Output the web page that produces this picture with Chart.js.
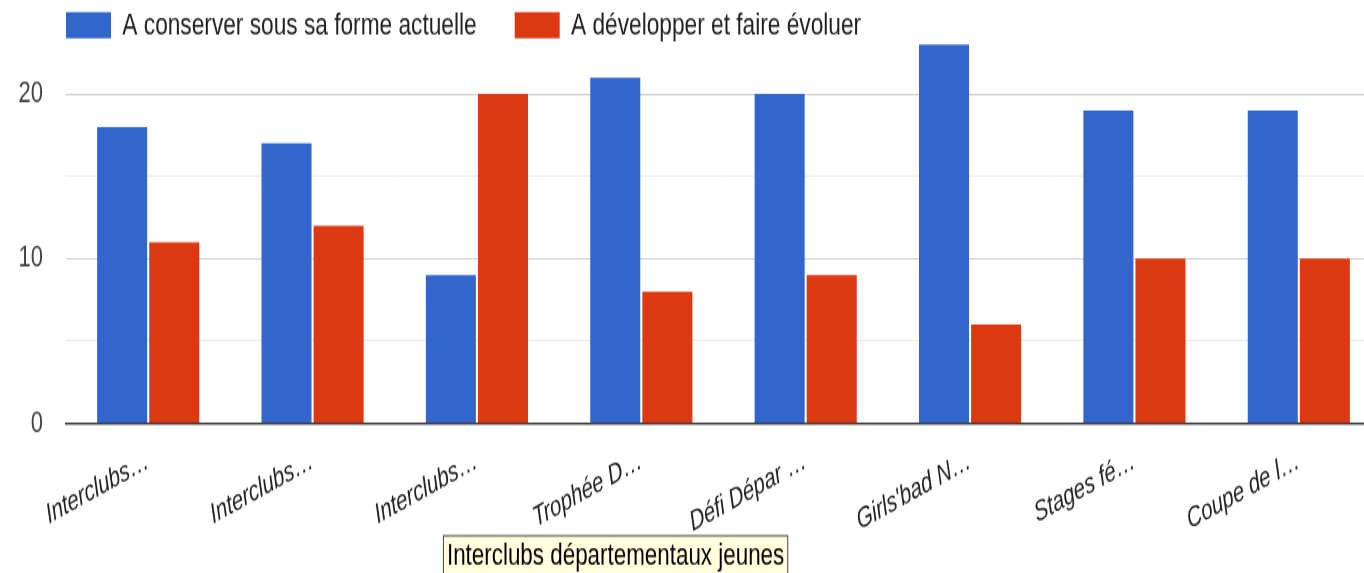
<!DOCTYPE html>
<html>
<head>
<meta charset="utf-8">
<script src="https://cdn.jsdelivr.net/npm/chart.js@4.4.1/dist/chart.umd.min.js"></script>
<style>
  html { overflow: hidden; }
  body { margin: 0; padding: 0; background: #fff; }
</style>
</head>
<body>
<!-- la capture d'origine est étirée verticalement : 415 px de dessin affichés sur 573 -->
<canvas id="graficabarras" width="1381" height="415" style="display:block;width:1381px;height:573px"></canvas>
<script>
const categories = ['Interclubs…', 'Interclubs…', 'Interclubs…', 'Trophée D…', 'Défi Dépar …', "Girls'bad N…", 'Stages fé…', 'Coupe de l…'];
const seriesNames = ['A conserver sous sa forme actuelle', 'A développer et faire évoluer'];
const conserver = [18, 17, 9, 21, 20, 23, 19, 19];
const developper = [11, 12, 20, 8, 9, 6, 10, 10];
const yLabels = [0, 10, 20];
const hoverIndex = 2;
const hoverText = 'Interclubs départementaux jeunes';

const colors = ['#3366cc', '#dc3912'];
Chart.defaults.font.family = '"Liberation Sans", Arial, sans-serif';

// la légende ne prend pas de place : elle chevauche le haut de la zone de tracé
const legendShift = {
    id: 'legendShift',
    beforeLayout(chart) {
        const lg = chart.legend;
        if (lg && !lg._sansHauteur) {
            const fit = lg.fit.bind(lg);
            lg.fit = function () { fit(); this._vraieHauteur = this.height; this.height = 0; };
            lg._sansHauteur = true;
        }
    },
    beforeDraw(chart) {
        const lg = chart.legend;
        const pad = lg.options.labels.padding;
        lg.left = chart.chartArea.left - pad;
        lg.top = chart.chartArea.top - pad - 1.5;
        lg.height = lg._vraieHauteur;
        lg.right = lg.left + lg.width;
        lg.bottom = lg.top + lg.height;
    }
};

// infobulle affichée sous l'axe (survol de la 3e catégorie)
const hoverBox = {
    id: 'hoverBox',
    afterDraw(chart) {
        const c = chart.ctx;
        const x = chart.scales.x.getPixelForValue(hoverIndex) - 34;
        const y = chart.chartArea.bottom + 81;
        c.save();
        c.font = '22.4px "Liberation Sans", Arial, sans-serif';
        const w = c.measureText(hoverText).width + 7;
        c.fillStyle = '#ffffdd';
        c.fillRect(x, y, w, 40);
        c.strokeStyle = '#444';
        c.lineWidth = 1;
        c.strokeRect(x + 0.5, y + 0.5, w, 40);
        c.fillStyle = '#000';
        c.textBaseline = 'middle';
        c.fillText(hoverText, x + 4, y + 15);
        c.restore();
    }
};

const ctx = document.getElementById('graficabarras').getContext('2d');

window.myChart = new Chart(ctx, {
    type: 'bar',
    data: {
        labels: categories,
        datasets: [conserver, developper].map((d, i) => ({
            label: seriesNames[i],
            data: d,
            backgroundColor: colors[i],
            borderWidth: 0,
            categoryPercentage: 0.634,
            barPercentage: 0.96
        }))
    },
    options: {
        responsive: false,
        animation: false,
        layout: { padding: { top: 8.5, left: 0, right: 0, bottom: 0 } },
        plugins: {
            legend: {
                position: 'top',
                align: 'start',
                labels: {
                    boxWidth: 45,
                    boxHeight: 19,
                    padding: 38,
                    color: '#222',
                    font: { size: 22.7 }
                }
            },
            tooltip: { enabled: false }
        },
        scales: {
            x: {
                z: 1,
                grid: { display: false },
                border: { display: true, color: '#333', width: 1.5 },
                ticks: {
                    autoSkip: false,
                    // 22° ici donne ~30° une fois l'image étirée
                    minRotation: 22,
                    maxRotation: 22,
                    padding: 7,
                    color: '#222',
                    font: { size: 20.5, style: 'italic' }
                },
                afterFit(scale) { scale.height = 108.5; }
            },
            y: {
                min: 0,
                max: 25,
                border: { display: false },
                grid: {
                    drawTicks: false,
                    color: c => {
                        const v = c.tick.value;
                        if (v === 0 || v === 25) return 'rgba(0,0,0,0)';
                        return yLabels.includes(v) ? '#cccccc' : '#ebebeb';
                    }
                },
                ticks: {
                    stepSize: 5,
                    padding: 23,
                    color: '#444',
                    font: { size: 22 },
                    callback: v => yLabels.includes(v) ? v : ''
                },
                afterFit(scale) {
                    scale.width = 66;
                    scale.paddingTop = 0;
                    scale.paddingBottom = 0;
                }
            }
        }
    },
    plugins: [legendShift, hoverBox]
});
</script>
</body>
</html>
